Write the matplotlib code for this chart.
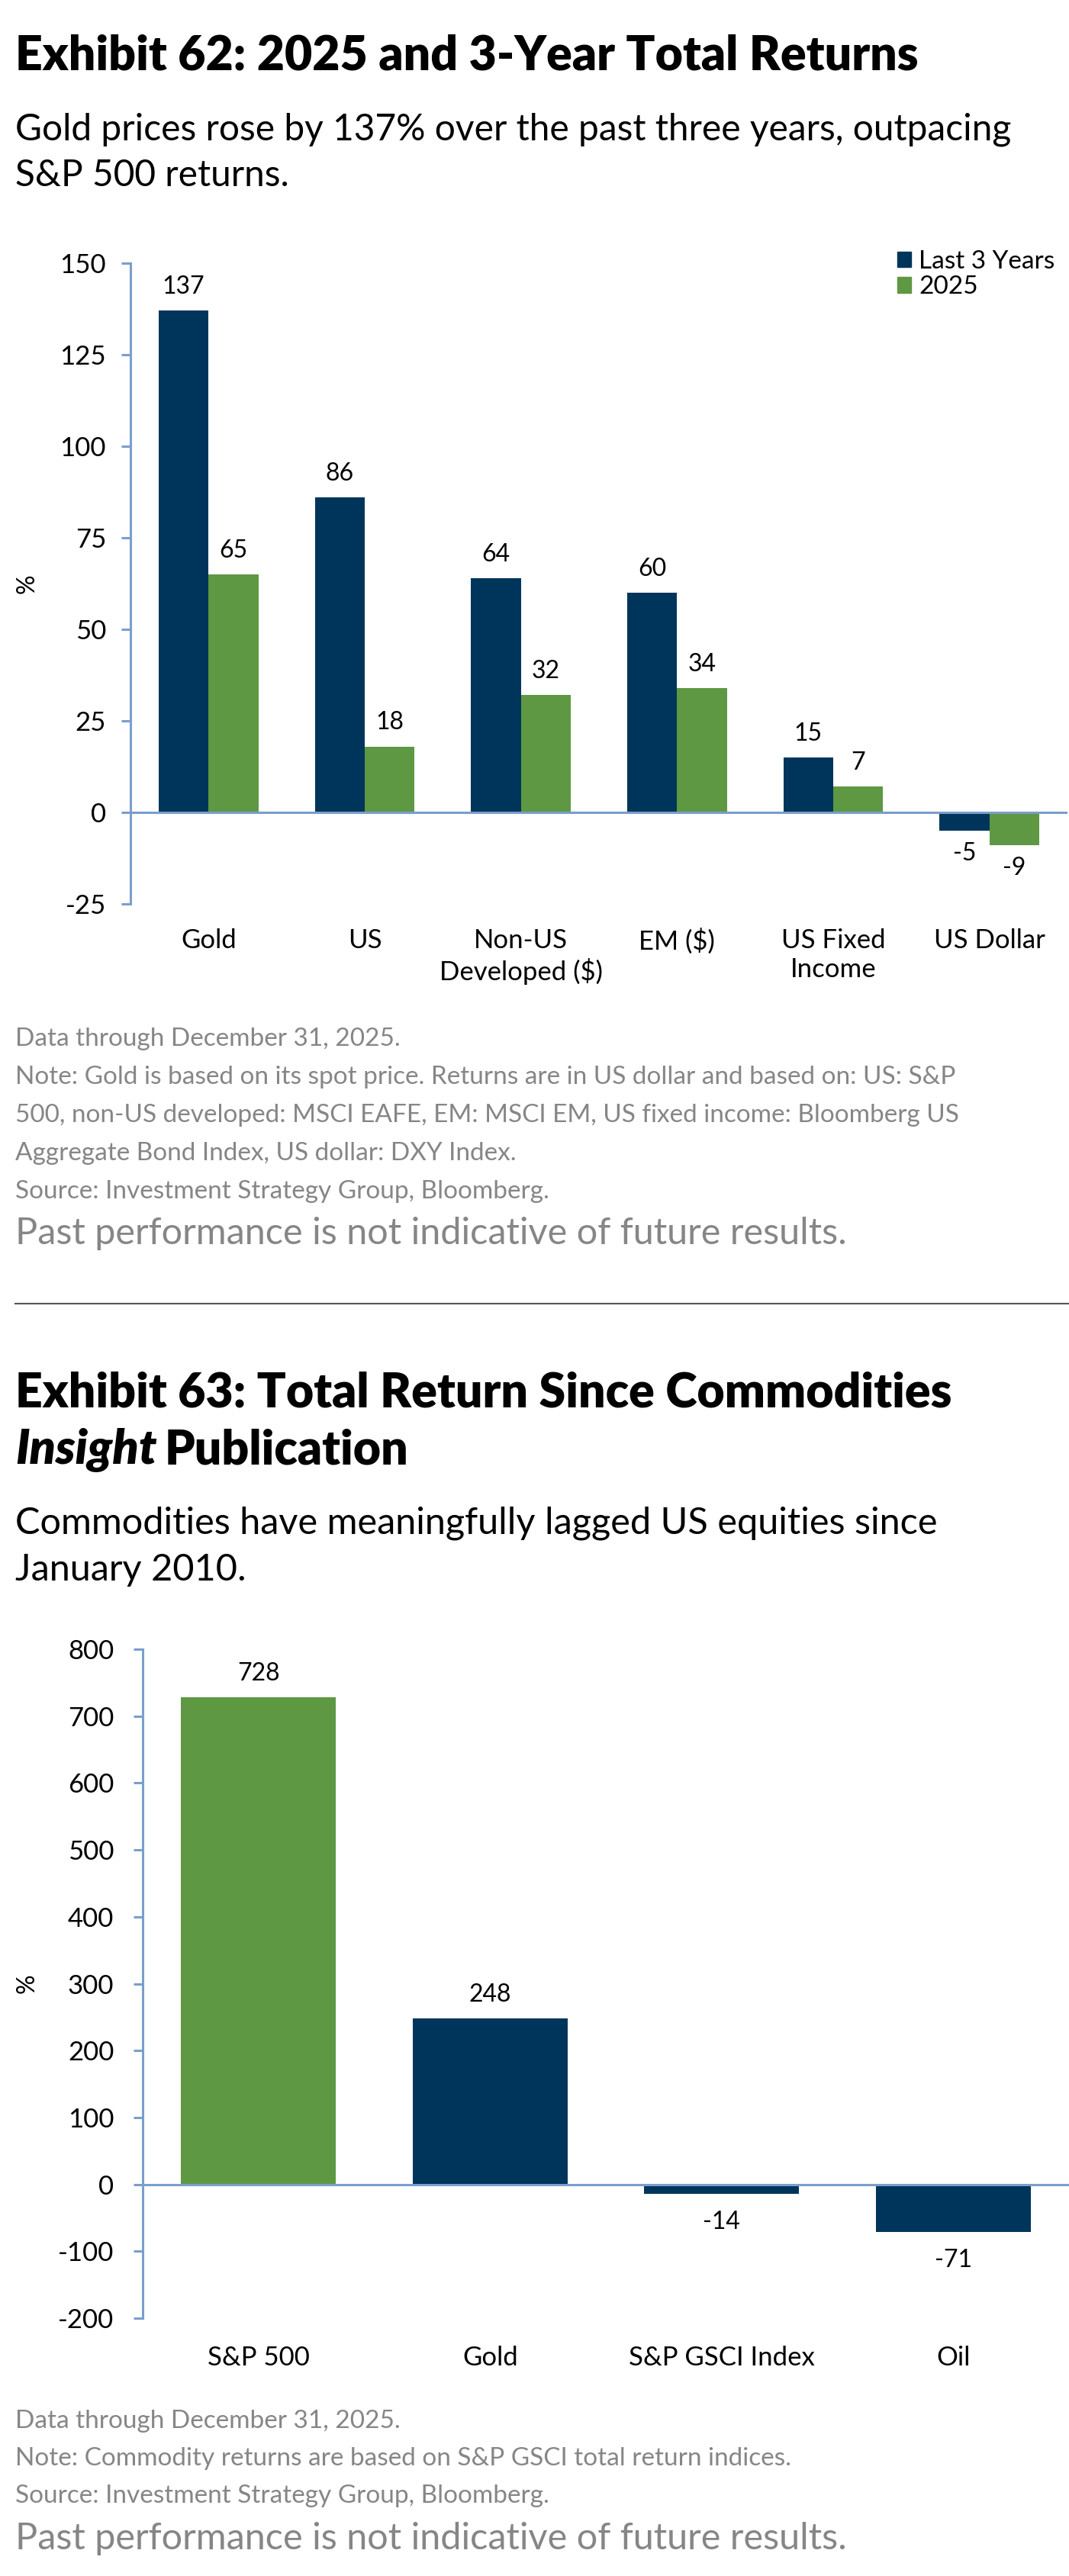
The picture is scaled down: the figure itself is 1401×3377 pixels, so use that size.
"""
Exhibit 62 / 63: total returns bar charts
"""
import matplotlib
matplotlib.use('Agg')
import matplotlib.pyplot as plt
from matplotlib.patches import Patch
import numpy as np

plt.rcParams['font.family'] = ['Lato', 'DejaVu Sans']
plt.rcParams['axes.unicode_minus'] = False

NAVY = '#00355b'
GREEN = '#5e9843'
AXIS = '#7a9fcb'
GREY = '#868686'

# Exhibit 62 data
cats1 = ['Gold', 'US', 'Non-US\nDeveloped ($)', 'EM ($)', 'US Fixed\nIncome', 'US Dollar']
last3 = [137, 86, 64, 60, 15, -5]
ret2025 = [65, 18, 32, 34, 7, -9]
ticks1 = [-25, 0, 25, 50, 75, 100, 125, 150]

# Exhibit 63 data
cats2 = ['S&P 500', 'Gold', 'S&P GSCI Index', 'Oil']
since2010 = [728, 248, -14, -71]
colors2 = [GREEN, NAVY, NAVY, NAVY]
ticks2 = [-200, -100, 0, 100, 200, 300, 400, 500, 600, 700, 800]

notes1 = ['Data through December 31, 2025.',
          'Note: Gold is based on its spot price. Returns are in US dollar and based on: US: S&P',
          '500, non-US developed: MSCI EAFE, EM: MSCI EM, US fixed income: Bloomberg US',
          'Aggregate Bond Index, US dollar: DXY Index.',
          'Source: Investment Strategy Group, Bloomberg.']
notes2 = ['Data through December 31, 2025.',
          'Note: Commodity returns are based on S&P GSCI total return indices.',
          'Source: Investment Strategy Group, Bloomberg.']
disclaimer = 'Past performance is not indicative of future results.'

W, H = 1401, 3377
fig = plt.figure(figsize=(W / 100, H / 100), dpi=100)

TITLE_FS = 45
SUB_FS = 34.5
NOTE_FS = 24
TICK_FS = 25
LAB_FS = 23


def fy(y):
    return 1 - y / H


def add_axes_px(left, top, right, bottom):
    return fig.add_axes([left / W, 1 - bottom / H, (right - left) / W, (bottom - top) / H])


def style(ax, ypad, xpad):
    for s in ['top', 'right', 'bottom']:
        ax.spines[s].set_visible(False)
    ax.spines['left'].set_color(AXIS)
    ax.spines['left'].set_linewidth(2.2)
    ax.axhline(0, color=AXIS, linewidth=2.2, zorder=3)
    ax.tick_params(axis='y', length=9, width=2.2, color=AXIS, pad=ypad, labelsize=TICK_FS)
    ax.tick_params(axis='x', length=0, pad=xpad, labelsize=TICK_FS)


def label_bars(ax, xs, vals, up, down):
    for x, v in zip(xs, vals):
        off = up if v >= 0 else -down
        ax.annotate(str(v), (x, v), xytext=(0, off), textcoords='offset points',
                    ha='center', va='baseline', fontsize=LAB_FS)


# ---- Exhibit 62 ----
fig.text(20 / W, fy(92), 'Exhibit 62: 2025 and 3-Year Total Returns',
         fontsize=TITLE_FS, fontweight='heavy', va='baseline')
fig.text(20 / W, fy(184), 'Gold prices rose by 137% over the past three years, outpacing',
         fontsize=SUB_FS, va='baseline')
fig.text(20 / W, fy(244), 'S&P 500 returns.', fontsize=SUB_FS, va='baseline')

ax1 = add_axes_px(171, 345, 1399, 1185)
x1 = np.arange(len(cats1))
bw = 0.32
ax1.bar(x1 - bw / 2, last3, bw, color=NAVY, label='Last 3 Years', zorder=2)
ax1.bar(x1 + bw / 2, ret2025, bw, color=GREEN, label='2025', zorder=2)
ax1.set_xlim(-0.5, len(cats1) - 0.5)
ax1.set_ylim(-25, 150)
ax1.set_yticks(ticks1)
ax1.set_xticks(x1)
ax1.set_xticklabels(cats1, linespacing=1.25)
style(ax1, 14, 23)
label_bars(ax1, x1 - bw / 2, last3, 16, 28)
label_bars(ax1, x1 + bw / 2, ret2025, 16, 28)
fig.text(36 / W, fy(765), '%', rotation=90, fontsize=LAB_FS, ha='center', va='center')

handles = [Patch(color=NAVY, label='Last 3 Years'), Patch(color=GREEN, label='2025')]
fig.legend(handles=handles, loc='upper left', bbox_to_anchor=(1176 / W, fy(328)),
           frameon=False, fontsize=24, handlelength=0.55, handleheight=0.55,
           handletextpad=0.3, labelspacing=0.1, borderpad=0, borderaxespad=0)

for i, line in enumerate(notes1):
    fig.text(20 / W, fy(1371 + 50 * i), line, fontsize=NOTE_FS, color=GREY, va='baseline')
fig.text(20 / W, fy(1631), disclaimer, fontsize=35, color=GREY, va='baseline')

fig.add_artist(plt.Line2D([20 / W, 1], [fy(1709), fy(1709)], color='#555555', linewidth=1.5))

# ---- Exhibit 63 ----
fig.text(20 / W, fy(1844), 'Exhibit 63: Total Return Since Commodities',
         fontsize=TITLE_FS, fontweight='heavy', va='baseline')
t_ins = fig.text(20 / W, fy(1919), 'Insight', fontsize=TITLE_FS, fontweight='heavy',
                 fontstyle='italic', va='baseline')
renderer = fig.canvas.get_renderer()
ext = t_ins.get_window_extent(renderer)
fig.text((ext.x1 + 10) / W, fy(1919), 'Publication', fontsize=TITLE_FS, fontweight='heavy',
         va='baseline')
fig.text(20 / W, fy(2010), 'Commodities have meaningfully lagged US equities since',
         fontsize=35, va='baseline')
fig.text(20 / W, fy(2072), 'January 2010.', fontsize=35, va='baseline')

ax2 = add_axes_px(187, 2162, 1401, 3039)
x2 = np.arange(len(cats2))
ax2.bar(x2, since2010, 0.67, color=colors2, zorder=2)
ax2.set_xlim(-0.5, len(cats2) - 0.5)
ax2.set_ylim(-200, 800)
ax2.set_yticks(ticks2)
ax2.set_xticks(x2)
ax2.set_xticklabels(cats2)
style(ax2, 18, 26)
label_bars(ax2, x2, since2010, 16, 33)
fig.text(36 / W, fy(2600), '%', rotation=90, fontsize=LAB_FS, ha='center', va='center')

for i, line in enumerate(notes2):
    fig.text(20 / W, fy(3183 + 49 * i), line, fontsize=NOTE_FS, color=GREY, va='baseline')
fig.text(20 / W, fy(3342), disclaimer, fontsize=35, color=GREY, va='baseline')

fig.savefig('out.png', dpi=100)
print("saved: out.png")
